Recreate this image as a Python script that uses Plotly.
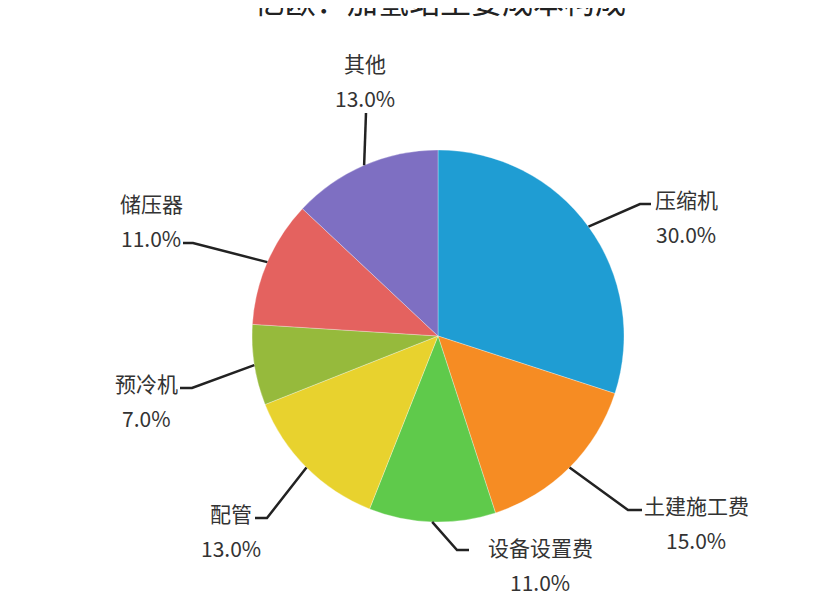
import math
import plotly.graph_objects as go

# the page body has an 8px margin, so the figure is drawn 8px in from the window corner
OFF = 8
W, H = 816 - OFF, 608 - OFF

# data
labels = ["压缩机", "土建施工费", "设备设置费", "配管", "预冷机", "储压器", "其他"]
values = [30, 15, 11, 13, 7, 11, 13]
colors = ["#1f9dd3", "#f68c23", "#5fca4b", "#e8d22e", "#96ba3c", "#e4625f", "#7e6fc2"]
title = "亿欧：加氢站主要成本构成"

# pie geometry in window pixels
CX, CY, R = 438, 336, 186

# label layout (window pixels): elbow of leader line, end of leader line, text centre
elbows = [(640, 204), (628, 510), (457, 550), (267, 518), (192, 388), (193, 243), (366, 113)]
ends = [(651, 204), (642, 510), (469, 550), (255, 518), (180, 388), (183, 243), (366, 113)]
text_pos = [(686, 199), (696, 505), (540, 547), (231, 513), (146, 383), (151, 203), (365, 63)]
line_gap = 35


def px(x):
    return (x - OFF) / W


def py(y):
    return 1 - (y - OFF) / H


fig = go.Figure()
fig.add_trace(go.Pie(
    labels=labels,
    values=values,
    marker=dict(colors=colors, line=dict(color="rgba(255,255,255,0.6)", width=0.5)),
    sort=False,
    direction="clockwise",
    rotation=0,
    textinfo="none",
    hoverinfo="label+percent",
    showlegend=False,
    domain=dict(x=[px(CX - R), px(CX + R)], y=[py(CY + R), py(CY - R)]),
))

total = sum(values)
cum = 0
shapes = []
annotations = []
for i, v in enumerate(values):
    mid = (cum + v / 2) / total * 2 * math.pi
    cum += v
    ex = CX + R * math.sin(mid)
    ey = CY - R * math.cos(mid)
    path = "M {} {} L {} {} L {} {}".format(
        px(ex), py(ey), px(elbows[i][0]), py(elbows[i][1]), px(ends[i][0]), py(ends[i][1]))
    shapes.append(dict(type="path", path=path, xref="paper", yref="paper",
                       line=dict(color="#222222", width=2.5)))
    tx, ty = text_pos[i]
    annotations.append(dict(x=px(tx), y=py(ty), xref="paper", yref="paper",
                            xanchor="center", yanchor="middle",
                            text=labels[i], showarrow=False,
                            font=dict(size=21, color="#333333")))
    annotations.append(dict(x=px(tx), y=py(ty + line_gap), xref="paper", yref="paper",
                            xanchor="center", yanchor="middle",
                            text="{:.1f}%".format(v / total * 100), showarrow=False,
                            font=dict(size=21, color="#333333")))

annotations.append(dict(x=px(440), y=py(-1), xref="paper", yref="paper",
                        xanchor="center", yanchor="middle",
                        text=title, showarrow=False,
                        font=dict(size=31, color="#222222")))

fig.update_layout(
    width=W, height=H,
    margin=dict(l=0, r=0, t=0, b=0),
    paper_bgcolor="white",
    font=dict(family="Noto Sans CJK SC, sans-serif"),
    shapes=shapes,
    annotations=annotations,
)

fig.write_html("out.html")
